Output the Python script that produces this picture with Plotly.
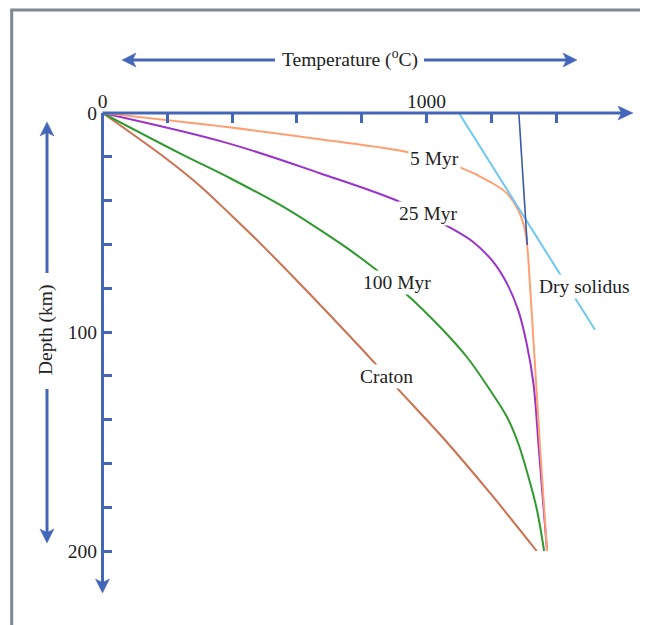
import plotly.graph_objects as go

# ---------------- data ----------------
depth_5myr = [0, 6.3, 12, 17.8, 24.5, 31.4, 36.7, 44.3, 53.4, 62.6, 77.8, 108.2, 153.9, 200]
temp_5myr = [0, 378, 671, 940, 1098, 1196, 1248, 1283, 1304, 1312, 1319, 1332, 1351, 1372]

depth_25myr = [0, 13.4, 27.5, 40.6, 51.9, 58.9, 68.0, 77.8, 90.0, 105.2, 123.4, 153.9, 200]
temp_25myr = [0, 378, 671, 918, 1067, 1144, 1206, 1248, 1283, 1309, 1330, 1347, 1372]

depth_100myr = [0, 18.4, 29.8, 42.0, 51.4, 61.6, 71.7, 82.6, 97.7, 111.3, 126.5, 138.7, 150.8,
                165.3, 181.3, 200]
temp_100myr = [0, 239, 394, 548, 651, 754, 846, 937, 1042, 1124, 1196, 1248, 1283,
               1313, 1341, 1363]

depth_craton = [0, 21.0, 33.3, 47.5, 59.4, 78.1, 114.3, 126.2, 149.3, 173.5, 200]
temp_craton = [0, 198, 301, 403, 486, 610, 841, 913, 1057, 1196, 1340]

depth_solidus = [0, 99]
temp_solidus = [1100, 1520]

depth_adiabat = [0, 60.3]
temp_adiabat = [1285, 1311]

x_tick_vals = [0, 200, 400, 600, 800, 1000, 1200, 1400]
x_tick_text = ["0", "", "", "", "", "1000", "", ""]
y_tick_vals = [0, 20, 40, 60, 80, 100, 120, 140, 160, 180, 200]
y_tick_text = ["0", "", "", "", "", "100", "", "", "", "", "200"]

curve_labels = ["5 Myr", "25 Myr", "100 Myr", "Craton", "Dry solidus"]
label_temp = [1026, 1005, 908, 876, 1486]
label_depth = [21, 45.7, 77.5, 120.4, 79]

# ---------------- styling ----------------
AX = "#4466B8"
FRAME = "#7D8894"
TXT = "#222222"
FONT = "Liberation Serif, Times New Roman, serif"
FS = 19.5

W_FIG, H_FIG = 648, 625
OFF = 8                                   # page body margin of the html page
L, R, T, B = 102, 633, 113, 593          # plot area in (screen) pixels
X0_PX, SX = 102.5, 0.324                 # px of T=0, px per degC
Y0_PX, SY = 113.0, 2.19                  # px of depth 0, px per km

x_range = [(L - X0_PX) / SX, (R - X0_PX) / SX]
y_range = [(B - Y0_PX) / SY, (T - Y0_PX) / SY]


def fx(px):
    return (px - L) / (R - L)


def fy(py):
    return (B - py) / (B - T)


def arrow_path(tx, ty, direction, length=14, half=7, notch=3.5):
    # notched arrowhead, tip at (tx,ty) in pixels
    if direction == "right":
        pts = [(tx, ty), (tx - length, ty - half), (tx - length + notch, ty), (tx - length, ty + half)]
    elif direction == "left":
        pts = [(tx, ty), (tx + length, ty - half), (tx + length - notch, ty), (tx + length, ty + half)]
    elif direction == "up":
        pts = [(tx, ty), (tx - half, ty + length), (tx, ty + length - notch), (tx + half, ty + length)]
    else:
        pts = [(tx, ty), (tx - half, ty - length), (tx, ty - length + notch), (tx + half, ty - length)]
    s = "M " + " L ".join(f"{fx(x):.5f},{fy(y):.5f}" for x, y in pts) + " Z"
    return dict(type="path", xref="paper", yref="paper", path=s,
                fillcolor=AX, line=dict(color=AX, width=0.5))


def px_line(x0, y0, x1, y1, color=AX, width=3):
    return dict(type="line", xref="paper", yref="paper",
                x0=fx(x0), y0=fy(y0), x1=fx(x1), y1=fy(y1),
                line=dict(color=color, width=width))


fig = go.Figure()

series = [
    (temp_craton, depth_craton, "#CC7050", 2),
    (temp_100myr, depth_100myr, "#2E9A2E", 2),
    (temp_25myr, depth_25myr, "#9933CC", 2),
    (temp_5myr, depth_5myr, "#FF9E70", 2),
    (temp_solidus, depth_solidus, "#6EC8F2", 2),
    (temp_adiabat, depth_adiabat, "#3A5AA8", 1.6),
]
for xs, ys, col, w in series:
    fig.add_trace(go.Scatter(x=xs, y=ys, mode="lines",
                             line=dict(color=col, width=w, shape="spline", smoothing=1.0),
                             hoverinfo="skip", showlegend=False))

shapes = []
# frame
shapes.append(px_line(11.7, 10, 11.7, 660, color=FRAME, width=3))
shapes.append(px_line(10.2, 10, 680, 10, color=FRAME, width=3))
# main axes
shapes.append(px_line(X0_PX, Y0_PX, 624, Y0_PX, width=3))
shapes.append(px_line(X0_PX, Y0_PX, X0_PX, 584, width=3))
shapes.append(arrow_path(633, Y0_PX, "right", length=15))
shapes.append(arrow_path(X0_PX, 593, "down", length=14))
# temperature double arrow
shapes.append(px_line(128, 60, 275, 60, width=3))
shapes.append(px_line(424, 60, 570, 60, width=3))
shapes.append(arrow_path(122, 60, "left"))
shapes.append(arrow_path(577, 60, "right"))
# depth double arrow
shapes.append(px_line(47, 128, 47, 273, width=3))
shapes.append(px_line(47, 389, 47, 537, width=3))
shapes.append(arrow_path(47, 122, "up"))
shapes.append(arrow_path(47, 543, "down"))

annotations = []
for txt, tx, ty in zip(curve_labels, label_temp, label_depth):
    annotations.append(dict(x=tx, y=ty, xref="x", yref="y", text=txt, showarrow=False,
                            xanchor="center", yanchor="middle",
                            font=dict(family=FONT, size=FS, color=TXT),
                            bgcolor="white", borderpad=1))
annotations.append(dict(x=fx(349.5), y=fy(58), xref="paper", yref="paper",
                        text="Temperature (<sup>o</sup>C)", showarrow=False,
                        xanchor="center", yanchor="middle",
                        font=dict(family=FONT, size=FS, color=TXT)))
annotations.append(dict(x=fx(46), y=fy(330), xref="paper", yref="paper",
                        text="Depth (km)", showarrow=False, textangle=-90,
                        xanchor="center", yanchor="middle",
                        font=dict(family=FONT, size=FS, color=TXT)))

fig.update_layout(
    width=W_FIG, height=H_FIG, autosize=False,
    margin=dict(l=L - OFF, r=W_FIG - (R - OFF), t=T - OFF, b=H_FIG - (B - OFF), pad=0),
    paper_bgcolor="white", plot_bgcolor="white",
    shapes=shapes, annotations=annotations,
    font=dict(family=FONT, size=FS, color=TXT),
    xaxis=dict(side="top", range=x_range, showgrid=False, zeroline=False, showline=False,
               tickmode="array", tickvals=x_tick_vals, ticktext=x_tick_text,
               ticks="inside", ticklen=10, tickwidth=3, tickcolor=AX,
               tickfont=dict(family=FONT, size=FS, color=TXT)),
    yaxis=dict(range=y_range, showgrid=False, zeroline=False, showline=False,
               tickmode="array", tickvals=y_tick_vals, ticktext=y_tick_text,
               ticks="inside", ticklen=10, tickwidth=3, tickcolor=AX,
               ticklabelstandoff=4,
               tickfont=dict(family=FONT, size=FS, color=TXT)),
)

fig.write_html("out.html")
